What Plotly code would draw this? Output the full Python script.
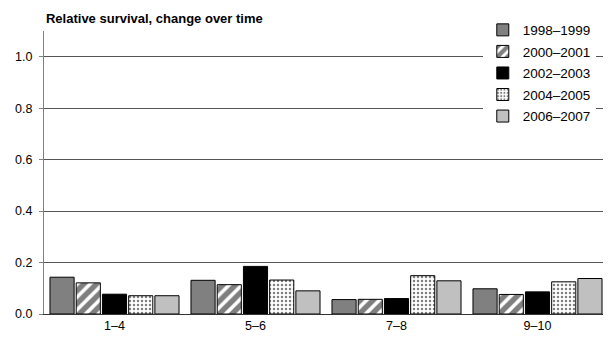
import plotly.graph_objects as go

# age groups on the x axis
categories = ["1–4", "5–6", "7–8", "9–10"]

# relative survival per period
periods = ["1998–1999", "2000–2001", "2002–2003", "2004–2005", "2006–2007"]
v_1998 = [0.143, 0.131, 0.056, 0.098]
v_2000 = [0.121, 0.114, 0.057, 0.076]
v_2002 = [0.077, 0.185, 0.060, 0.086]
v_2004 = [0.071, 0.132, 0.149, 0.125]
v_2006 = [0.071, 0.090, 0.129, 0.138]

series = [v_1998, v_2000, v_2002, v_2004, v_2006]

styles = [
    dict(color="#808080"),
    dict(color="white", pattern=dict(shape="/", fgcolor="black", bgcolor="white", size=9, solidity=0.6)),
    dict(color="black"),
    dict(color="white", pattern=dict(shape=".", fgcolor="black", bgcolor="white", size=4, solidity=0.3)),
    dict(color="#c0c0c0"),
]

fig = go.Figure()
for name, vals, st in zip(periods, series, styles):
    fig.add_trace(go.Bar(
        x=categories, y=vals, name=name, legendgroup=name,
        marker=dict(**st, line=dict(color="black", width=1)),
    ))

# the page body adds 8px around the plot, so the figure is 8px smaller
fig.update_layout(
    width=603, height=330,
    margin=dict(l=36, r=3, t=23, b=24),
    paper_bgcolor="white", plot_bgcolor="white",
    font=dict(family="Liberation Sans, Arial, sans-serif", size=12.5, color="black"),
    barmode="group", bargap=0.07, bargroupgap=0.08,
    title=dict(text="<b>Relative survival, change over time</b>", x=0.063, xanchor="left",
               y=0.968, yanchor="middle", font=dict(size=13)),
    legend=dict(x=0.778, xanchor="left", y=1.058, yanchor="top", bgcolor="white",
                tracegroupgap=1, font=dict(size=13.5)),
    showlegend=True,
)
fig.update_xaxes(showline=True, linecolor="#333", linewidth=1, ticks="", showgrid=False)
fig.update_yaxes(range=[0, 1.1], tickvals=[0, 0.2, 0.4, 0.6, 0.8, 1.0], tickformat=".1f",
                 showgrid=True, gridcolor="#555", gridwidth=1, zeroline=False,
                 showline=True, linecolor="#808080", linewidth=1,
                 ticks="outside", ticklen=4, tickcolor="#808080", ticklabelstandoff=4)

fig.write_html("out.html")
